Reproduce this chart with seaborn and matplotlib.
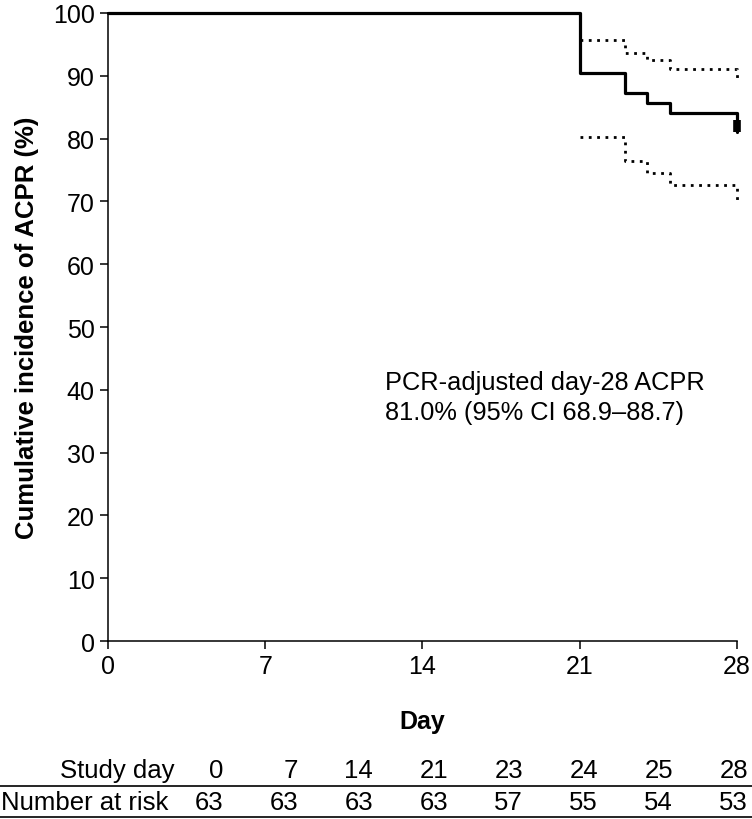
import pandas as pd
import matplotlib
matplotlib.use("Agg")
import matplotlib.pyplot as plt
import seaborn as sns

# Kaplan-Meier style estimate of ACPR
days = [0, 21, 23, 24, 25, 28]
acpr = [100, 90.5, 87.3, 85.7, 84.1, 81.0]

ci_days = [21, 23, 24, 25, 28]
ci_upper = [95.7, 93.7, 92.5, 91.0, 89.4]
ci_lower = [80.2, 76.4, 74.5, 72.6, 69.4]

x_ticks = [0, 7, 14, 21, 28]
y_ticks = list(range(0, 101, 10))

study_day = [0, 7, 14, 21, 23, 24, 25, 28]
at_risk = [63, 63, 63, 63, 57, 55, 54, 53]

sns.set_style("ticks", {"axes.edgecolor": "black", "text.color": "black",
                        "xtick.color": "black", "ytick.color": "black",
                        "axes.labelcolor": "black"})
plt.rcParams["font.family"] = ["Liberation Sans", "DejaVu Sans"]

df = pd.DataFrame({"Day": days, "ACPR": acpr})
df_ci = pd.DataFrame({"Day": ci_days, "Upper": ci_upper, "Lower": ci_lower})

fig = plt.figure(figsize=(7.52, 8.2), dpi=100)
ax = fig.add_axes([0.1436, 0.217, 0.8364, 0.766])

sns.lineplot(data=df, x="Day", y="ACPR", drawstyle="steps-post", color="black", lw=2.3,
             clip_on=False, ax=ax)
sns.lineplot(data=df_ci, x="Day", y="Upper", drawstyle="steps-post", color="black",
             lw=2, linestyle=(0, (1, 2)), clip_on=False, ax=ax)
sns.lineplot(data=df_ci, x="Day", y="Lower", drawstyle="steps-post", color="black",
             lw=2, linestyle=(0, (1, 2)), clip_on=False, ax=ax)
# censor mark at day 28
ax.vlines(days[-1], acpr[-1], acpr[-1] + 1.9, color="black", lw=5.5, clip_on=False)

ax.set_xlim(0, 28)
ax.set_ylim(0, 100)
ax.set_xticks(x_ticks)
ax.set_yticks(y_ticks)
ax.tick_params(labelsize=18, length=6, width=1.1, direction="out", colors="black")
for s in ["left", "bottom"]:
    ax.spines[s].set_linewidth(1.1)
sns.despine(ax=ax)

ax.set_xlabel("Day", fontsize=18, fontweight="bold", labelpad=22)
ax.set_ylabel("Cumulative incidence of ACPR (%)", fontsize=18.5, fontweight="bold", labelpad=10)

ax.text(12.35, 41.2, "PCR-adjusted day-28 ACPR", fontsize=18.3, va="center", ha="left")
ax.text(12.35, 36.4, "81.0% (95% CI 68.9\u201388.7)", fontsize=18.3, va="center", ha="left")

# number at risk table, coordinates in figure pixels
tab = fig.add_axes([0, 0, 1, 1], zorder=-1)
tab.set_xlim(0, 752)
tab.set_ylim(820, 0)
tab.axis("off")
col_x = [223 + 75 * i for i in range(len(study_day))]
tab.text(174, 771, "Study day", fontsize=18.5, ha="right", va="center")
tab.text(1, 803, "Number at risk", fontsize=18.5, ha="left", va="center")
for x, d, n in zip(col_x, study_day, at_risk):
    tab.text(x, 771, str(d), fontsize=18.5, ha="right", va="center")
    tab.text(x, 803, str(n), fontsize=18.5, ha="right", va="center")
tab.plot([0, 752], [787, 787], color="black", lw=1.2)
tab.plot([0, 752], [818, 818], color="black", lw=1.2)

fig.savefig("out.png", dpi=100)
